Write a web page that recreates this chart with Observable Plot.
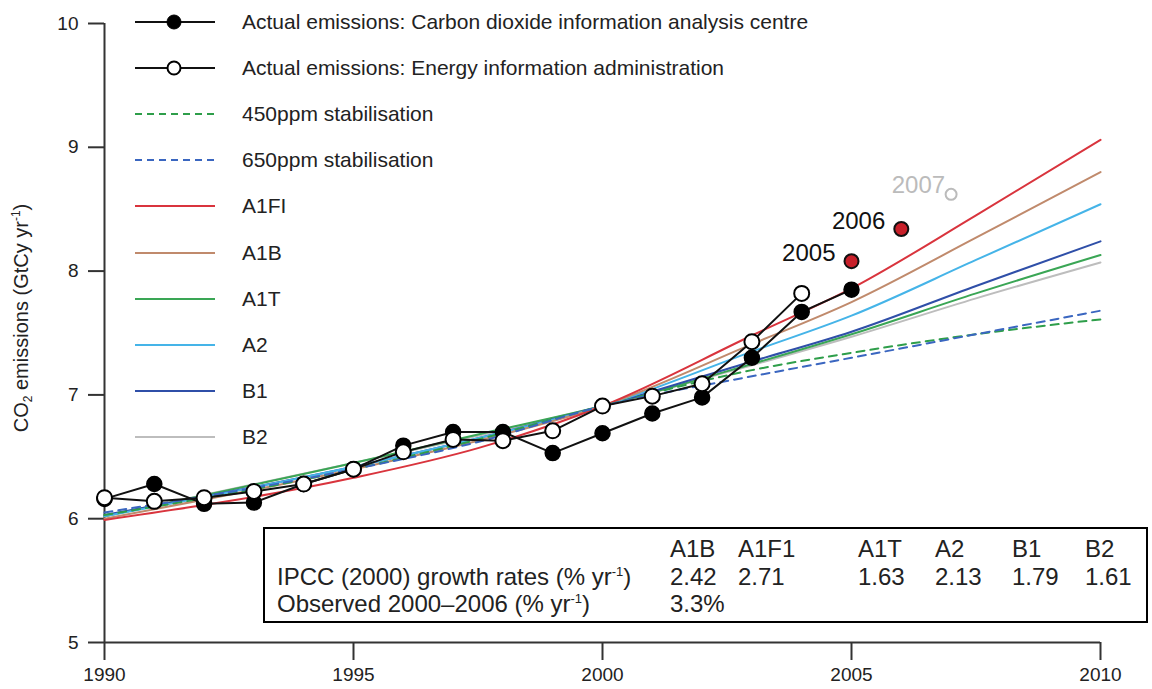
<!DOCTYPE html>
<html>
<head>
<meta charset="utf-8">
<script src="https://cdn.jsdelivr.net/npm/d3@7"></script>
<script src="https://cdn.jsdelivr.net/npm/@observablehq/plot@0.6"></script>
<style>
  html, body { margin: 0; padding: 0; background: #fff; }
  #wrap { position: relative; width: 1152px; height: 689px; font-family: "Liberation Sans", Arial, sans-serif; color: #222; }
  #chart { position: absolute; left: 0; top: 0; }
  #ylabel { position: absolute; left: 22px; top: 318px; transform: translate(-50%, -50%) rotate(-90deg); white-space: nowrap; font-size: 20px; }
  #ylabel sub { font-size: 12px; vertical-align: -4px; }
  #ylabel sup { font-size: 12px; vertical-align: 8px; }
  #legend { position: absolute; left: 135px; top: -1px; }
  .lrow { display: flex; align-items: center; height: 46.1px; font-size: 21px; }
  .lrow svg { width: 80px; height: 20px; margin-right: 27px; flex: none; }
  #table { position: absolute; left: 263px; top: 527px; width: 881px; height: 92px; border: 2px solid #000; background: #fff;
           font-family: "Liberation Sans", Arial, sans-serif; font-size: 24px; }
  #table table { border-collapse: collapse; position: absolute; left: 12px; top: 6px; }
  #table td { padding: 0; height: 27.5px; line-height: 27.5px; white-space: nowrap; }
  #table sup { font-size: 13px; vertical-align: 9px; line-height: 0; }
</style>
</head>
<body>
<div id="wrap">
  <div id="chart"></div>
  <div id="ylabel">CO<sub>2</sub> emissions (GtCy yr<sup>-1</sup>)</div>
  <div id="legend"></div>
  <div id="table"></div>
</div>
<script>
// ---- Data ----
const cdiacYears = [1990, 1991, 1992, 1993, 1994, 1995, 1996, 1997, 1998, 1999, 2000, 2001, 2002, 2003, 2004, 2005];
const cdiacValues = [6.16, 6.28, 6.12, 6.13, 6.28, 6.40, 6.59, 6.70, 6.70, 6.53, 6.69, 6.85, 6.98, 7.30, 7.67, 7.85];

const eiaYears = [1990, 1991, 1992, 1993, 1994, 1995, 1996, 1997, 1998, 1999, 2000, 2001, 2002, 2003, 2004];
const eiaValues = [6.17, 6.14, 6.17, 6.22, 6.28, 6.40, 6.54, 6.64, 6.63, 6.71, 6.91, 6.99, 7.09, 7.43, 7.82];

const recentYears = [2005, 2006];
const recentValues = [8.08, 8.34];
const latestYears = [2007];
const latestValues = [8.62];

const scenarioYears = [1990, 1995, 1997.5, 2000, 2003, 2005, 2007.5, 2010];
const scenarioNames = ["450ppm stabilisation", "650ppm stabilisation", "A1FI", "A1B", "A1T", "A2", "B1", "B2"];
const scenarioColors = ["#2e9e4a", "#3a66c0", "#d9343d", "#c08a6c", "#3aa655", "#45b4e8", "#2f4fa8", "#bdbdbd"];
const scenarioDashed = [true, true, false, false, false, false, false, false];
const s450 = [6.03, 6.40, 6.64, 6.91, 7.20, 7.34, 7.49, 7.61];
const s650 = [6.05, 6.40, 6.62, 6.91, 7.15, 7.30, 7.49, 7.68];
const sA1FI = [5.99, 6.33, 6.57, 6.91, 7.48, 7.86, 8.45, 9.06];
const sA1B = [6.00, 6.40, 6.63, 6.91, 7.41, 7.75, 8.27, 8.80];
const sA1T = [6.02, 6.45, 6.68, 6.91, 7.25, 7.49, 7.82, 8.13];
const sA2 = [6.02, 6.42, 6.65, 6.91, 7.35, 7.64, 8.09, 8.54];
const sB1 = [6.03, 6.42, 6.65, 6.91, 7.27, 7.51, 7.88, 8.24];
const sB2 = [6.02, 6.45, 6.67, 6.91, 7.24, 7.47, 7.78, 8.07];
const scenarioValues = [s450, s650, sA1FI, sA1B, sA1T, sA2, sB1, sB2];

const xTicks = [1990, 1995, 2000, 2005, 2010];
const yTicks = [5, 6, 7, 8, 9, 10];

const legendLabels = ["Actual emissions: Carbon dioxide information analysis centre", "Actual emissions: Energy information administration"];

const tableHeaders = ["A1B", "A1F1", "A1T", "A2", "B1", "B2"];
const tableRates = ["2.42", "2.71", "1.63", "2.13", "1.79", "1.61"];
const observedRate = "3.3%";

// ---- Build tables ----
const cdiac = cdiacYears.map((y, i) => ({year: y, value: cdiacValues[i]}));
const eia = eiaYears.map((y, i) => ({year: y, value: eiaValues[i]}));
const recent = recentYears.map((y, i) => ({year: y, value: recentValues[i]}));
const latest = latestYears.map((y, i) => ({year: y, value: latestValues[i]}));
const scenarios = scenarioNames.map((n, k) => ({
  name: n, color: scenarioColors[k], dashed: scenarioDashed[k],
  data: scenarioYears.map((y, i) => ({year: y, value: scenarioValues[k][i]}))
}));
const drawOrder = ["B2", "A1T", "B1", "A2", "A1B", "A1FI", "450ppm stabilisation", "650ppm stabilisation"];

const axisColor = "#333";

const plot = Plot.plot({
  width: 1152,
  height: 689,
  marginLeft: 104,
  marginRight: 52,
  marginTop: 23,
  marginBottom: 47,
  x: {domain: [1990, 2010]},
  y: {domain: [5, 10]},
  style: {fontFamily: "'Liberation Sans', Arial, sans-serif", fontSize: "19px", color: "#222", background: "#fff"},
  marks: [
    Plot.axisY({ticks: yTicks, tickFormat: d => String(d), tickSize: 16, tickPadding: 10, label: null, stroke: axisColor, strokeWidth: 2, fontSize: 19}),
    Plot.axisX({ticks: xTicks, tickFormat: d => String(d), tickSize: 18, tickPadding: 7, label: null, stroke: axisColor, strokeWidth: 2, fontSize: 19}),
    Plot.ruleX([1990], {y1: 5, y2: 10, stroke: axisColor, strokeWidth: 2}),
    Plot.ruleY([5], {x1: 1990, x2: 2010, stroke: axisColor, strokeWidth: 2}),
    ...drawOrder.map(n => {
      const s = scenarios.find(d => d.name === n);
      return Plot.line(s.data, {x: "year", y: "value", stroke: s.color, strokeWidth: 2, curve: "monotone-x",
        strokeDasharray: s.dashed ? "8,6" : null});
    }),
    Plot.line(cdiac, {x: "year", y: "value", stroke: "#111", strokeWidth: 2}),
    Plot.dot(cdiac, {x: "year", y: "value", r: 7.5, fill: "#000", stroke: "#000", strokeWidth: 1.5}),
    Plot.line(eia, {x: "year", y: "value", stroke: "#111", strokeWidth: 2}),
    Plot.dot(eia, {x: "year", y: "value", r: 7.5, fill: "#fff", stroke: "#000", strokeWidth: 2}),
    Plot.dot(recent, {x: "year", y: "value", r: 7, fill: "#c8202a", stroke: "#111", strokeWidth: 2}),
    Plot.dot(latest, {x: "year", y: "value", r: 5.5, fill: "#fff", stroke: "#bbb", strokeWidth: 2}),
    Plot.text(recent, {x: "year", y: "value", text: d => String(d.year), textAnchor: "end", dx: -16, dy: -8, fontSize: 24, fill: "#111"}),
    Plot.text(latest, {x: "year", y: "value", text: d => String(d.year), textAnchor: "end", dx: -6, dy: -9, fontSize: 24, fill: "#bbb"})
  ]
});
document.getElementById("chart").appendChild(plot);

// ---- Legend ----
const legend = document.getElementById("legend");
const legendItems = [
  {label: legendLabels[0], color: "#111", dashed: false, marker: "filled"},
  {label: legendLabels[1], color: "#111", dashed: false, marker: "open"},
  ...scenarioNames.map((n, k) => ({label: n, color: scenarioColors[k], dashed: scenarioDashed[k], marker: null}))
];
for (const it of legendItems) {
  const row = document.createElement("div");
  row.className = "lrow";
  let svg = `<svg viewBox="0 0 80 20"><line x1="0" y1="10" x2="80" y2="10" stroke="${it.color}" stroke-width="2"${it.dashed ? ' stroke-dasharray="7,5"' : ''}/>`;
  if (it.marker === "filled") svg += `<circle cx="39" cy="10" r="7" fill="#000" stroke="#000"/>`;
  if (it.marker === "open") svg += `<circle cx="39" cy="10" r="6.5" fill="#fff" stroke="#000" stroke-width="2"/>`;
  svg += `</svg>`;
  row.innerHTML = svg + `<span>${it.label}</span>`;
  legend.appendChild(row);
}

// ---- Table ----
const colWidths = [393, 68, 120, 77, 77, 73, 60];
let html = "<table><colgroup>" + colWidths.map(w => `<col style="width:${w}px">`).join("") + "</colgroup>";
html += "<tr><td></td>" + tableHeaders.map(h => `<td>${h}</td>`).join("") + "</tr>";
html += "<tr><td>IPCC (2000) growth rates (% yr<sup>-1</sup>)</td>" + tableRates.map(r => `<td>${r}</td>`).join("") + "</tr>";
html += "<tr><td>Observed 2000–2006 (% yr<sup>-1</sup>)</td><td>" + observedRate + "</td>" + tableHeaders.slice(1).map(() => "<td></td>").join("") + "</tr>";
html += "</table>";
document.getElementById("table").innerHTML = html;
</script>
</body>
</html>
